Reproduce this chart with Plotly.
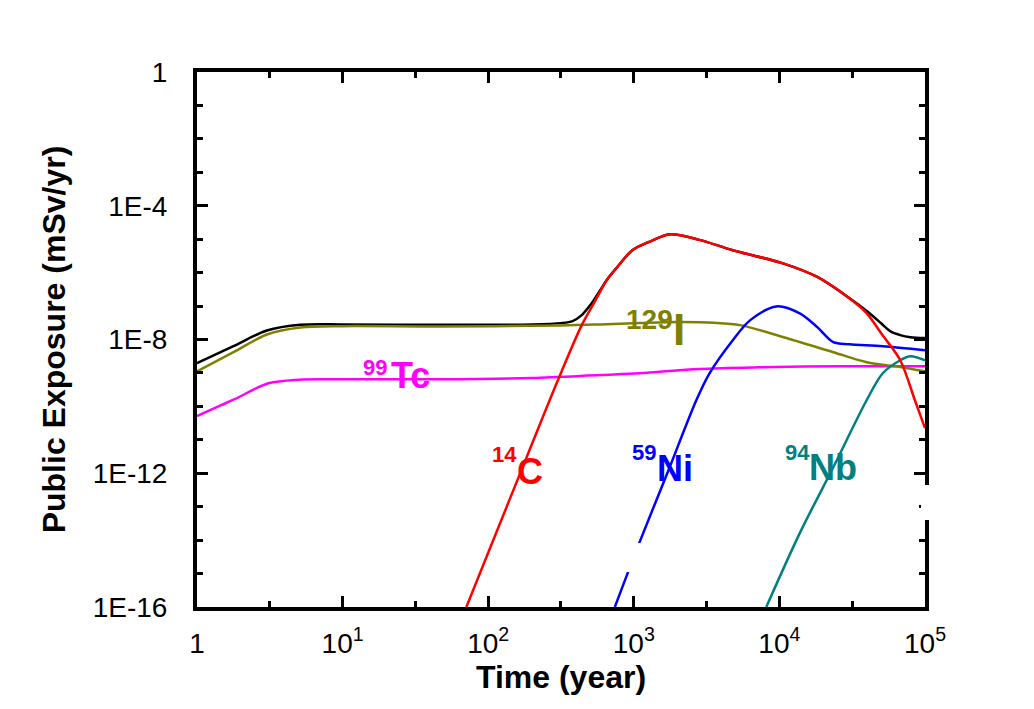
import plotly.graph_objects as go

# ---- data ----
tc99_x = [1, 1.78, 3.09, 5.01, 10, 46.8, 200, 589, 1096, 2818, 7413, 25119, 100000]
tc99_y = [5.13e-11, 1.58e-10, 4.9e-10, 6.3e-10, 6.46e-10, 6.46e-10, 7.08e-10, 8.7e-10,
          9.77e-10, 1.32e-9, 1.48e-9, 1.58e-9, 1.58e-9]

i129_x = [1, 1.78, 3.02, 5.13, 10, 46.8, 316, 589, 1096, 1995, 3548, 5370, 10715, 23442,
          39811, 67608, 100000]
i129_y = [1.12e-9, 4.17e-9, 1.41e-8, 2.29e-8, 2.51e-8, 2.45e-8, 2.63e-8, 2.82e-8, 3.09e-8,
          3.31e-8, 3.16e-8, 2.69e-8, 1.17e-8, 4.17e-9, 2.09e-9, 1.51e-9, 1.12e-9]

c14_x = [70.8, 184, 303, 439, 525, 652, 759, 977, 1259, 1778, 2818, 4786, 10715, 18197, 30200,
         39811, 50119, 67608, 85114, 100000]
c14_y = [1e-16, 3.09e-12, 6.46e-10, 2.69e-8, 1.10e-7, 5.89e-7, 1.35e-6, 4.68e-6, 8.13e-6,
         1.41e-5, 9.55e-6, 4.68e-6, 1.86e-6, 7.41e-7, 1.70e-7, 6.03e-8, 1.51e-8, 2.40e-9,
         1.55e-10, 2.24e-11]

ni59_x = [741, 1096, 1698, 2692, 3311, 4786, 6310, 9550, 13804, 18197, 23442, 30200, 51286, 100000]
ni59_y = [1e-16, 8.71e-15, 1e-12, 1.55e-10, 9.77e-10, 9.55e-9, 3.80e-8, 9.77e-8, 6.03e-8,
          2.34e-8, 8.32e-9, 7.24e-9, 6.31e-9, 4.79e-9]

nb94_x = [8128, 13804, 23442, 39811, 51286, 67608, 79433, 100000]
nb94_y = [1e-16, 1.62e-14, 1.51e-12, 1.55e-10, 9.77e-10, 2.40e-9, 3.16e-9, 2.40e-9]

total_x = [1, 1.78, 3.02, 5.13, 10, 46.8, 200, 316, 380, 437, 501, 589, 652, 759, 977, 1259,
           1778, 2818, 4786, 10715, 18197, 30200, 39811, 50119, 57544, 67608, 79433, 100000]
total_y = [1.95e-9, 6.31e-9, 1.86e-8, 2.75e-8, 2.82e-8, 2.75e-8, 2.82e-8, 3.09e-8, 3.55e-8,
           5.25e-8, 1.05e-7, 3.02e-7, 6.03e-7, 1.36e-6, 4.68e-6, 8.13e-6, 1.41e-5, 9.55e-6,
           4.68e-6, 1.86e-6, 7.41e-7, 1.74e-7, 7.08e-8, 3.02e-8, 1.78e-8, 1.35e-8, 1.17e-8,
           1.10e-8]

x_tickvals = [1, 10, 100, 1000, 10000, 100000]
x_ticktext = ["1", "10<sup>1</sup>", "10<sup>2</sup>", "10<sup>3</sup>", "10<sup>4</sup>", "10<sup>5</sup>"]
x_minor = [3.162, 31.62, 316.2, 3162, 31623]
y_tickvals = [1, 1e-4, 1e-8, 1e-12, 1e-16]
y_ticktext = ["1", "1E-4", "1E-8", "1E-12", "1E-16"]
y_minor = [1e-1, 1e-2, 1e-3, 1e-5, 1e-6, 1e-7, 1e-9, 1e-10, 1e-11, 1e-13, 1e-14, 1e-15]

series = [
    ("Total", total_x, total_y, "#000000"),
    ("99Tc", tc99_x, tc99_y, "#FF00FF"),
    ("129I", i129_x, i129_y, "#808000"),
    ("59Ni", ni59_x, ni59_y, "#0000FF"),
    ("94Nb", nb94_x, nb94_y, "#008080"),
    ("14C", c14_x, c14_y, "#FF0000"),
]

NARROW = "Liberation Sans Narrow, Arial Narrow, Liberation Sans, Arial, sans-serif"
BOLD = "Liberation Sans, Arial, sans-serif"

fig = go.Figure()
for name, xs, ys, col in series:
    fig.add_trace(go.Scatter(x=xs, y=ys, mode="lines", name=name,
                             line=dict(color=col, width=2.5, shape="spline", smoothing=0.9)))

axis_common = dict(
    type="log", showgrid=False, zeroline=False, showline=True, linewidth=4,
    linecolor="black", mirror="allticks", ticks="inside", ticklen=11, tickwidth=3,
    tickcolor="black", tickfont=dict(family=NARROW, size=28, color="black"),
)

fig.update_xaxes(**axis_common, range=[0, 5], tickmode="array", tickvals=x_tickvals,
                 ticktext=x_ticktext, ticklabelstandoff=8,
                 minor=dict(tickmode="array", tickvals=x_minor, ticks="inside", ticklen=6,
                            tickwidth=3, tickcolor="black", showgrid=False),
                 title=dict(text="<b>Time (year)</b>", standoff=8,
                            font=dict(family=BOLD, size=32, color="black")))
fig.update_yaxes(**axis_common, range=[-16, 0], tickmode="array", tickvals=y_tickvals,
                 ticktext=y_ticktext, ticklabelstandoff=20,
                 minor=dict(tickmode="array", tickvals=y_minor, ticks="inside", ticklen=6,
                            tickwidth=3, tickcolor="black", showgrid=False),
                 title=dict(text="<b>Public Exposure (mSv/yr)</b>", standoff=18,
                            font=dict(family=BOLD, size=32, color="black")))

def px2paper(px, py):
    return (px - 197) / 728.0, (607 - py) / 535.0

labels = [
    # (text, px, py, size, color)
    ("99", 375, 367, 22, "#FF00FF"), ("Tc", 410, 375, 36, "#FF00FF"),
    ("14", 504, 455, 22, "#FF0000"), ("C", 530, 471, 36, "#FF0000"),
    ("59", 644, 452, 22, "#0000FF"), ("Ni", 675, 468, 36, "#0000FF"),
    ("94", 797, 452, 22, "#008080"), ("Nb", 833, 467, 36, "#008080"),
    ("129", 649, 319, 28, "#808000"), ("I", 679, 329, 44, "#808000"),
]
for t, px, py, sz, col in labels:
    xx, yy = px2paper(px, py)
    fig.add_annotation(x=xx, y=yy, xref="paper", yref="paper", text="<b>%s</b>" % t,
                       showarrow=False, xanchor="center", yanchor="middle",
                       font=dict(family=BOLD, size=sz, color=col))

# small white gaps seen in the reference (right frame and 59Ni curve)
gx0, gy0 = px2paper(921, 520)
gx1, gy1 = px2paper(931, 485)
fig.add_shape(type="rect", xref="paper", yref="paper", x0=gx0, x1=gx1, y0=gy0, y1=gy1,
              fillcolor="white", line=dict(width=0), layer="above")
bx0, by0 = px2paper(624, 572)
bx1, by1 = px2paper(648, 543)
fig.add_shape(type="rect", xref="paper", yref="paper", x0=bx0, x1=bx1, y0=by0, y1=by1,
              fillcolor="white", line=dict(width=0), layer="above")

fig.update_layout(
    width=1034, height=709, showlegend=False,
    margin=dict(l=189, r=117, t=64, b=110),
    paper_bgcolor="white", plot_bgcolor="white",
)

fig.write_html("out.html")
